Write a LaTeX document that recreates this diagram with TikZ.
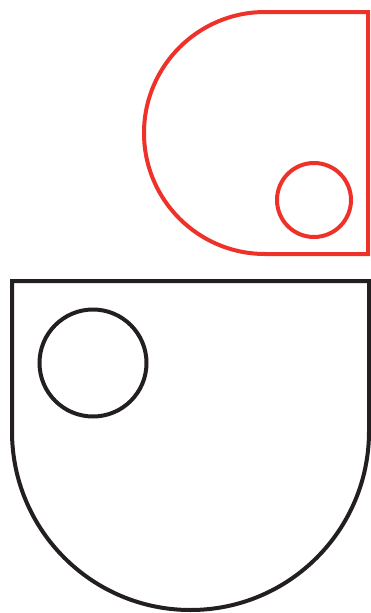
\documentclass[tikz,border=0pt]{standalone}
\definecolor{shapered}{HTML}{EE3129}
\definecolor{shapeblack}{HTML}{231F20}
\tikzset{
  redline/.style={draw=shapered, line width=4pt},
  blackline/.style={draw=shapeblack, line width=4pt},
}
\begin{document}
\begin{tikzpicture}[x=1pt,y=-1pt]
\useasboundingbox (0,0) rectangle (371,613);
% red shape
\draw[redline, line join=miter] (265,12) -- (368,12) -- (368,254) -- (265,254)
  arc[start angle=90, end angle=270, radius=121] -- cycle;
\draw[redline] (314,200) circle[radius=37];
% black shape
\draw[blackline, line join=miter] (12,431.5) -- (12,281) -- (369,281) -- (369,431.5)
  arc[start angle=0, end angle=180, radius=178.5] -- cycle;
\draw[blackline] (93,363) circle[radius=53.5];
\end{tikzpicture}
\end{document}
